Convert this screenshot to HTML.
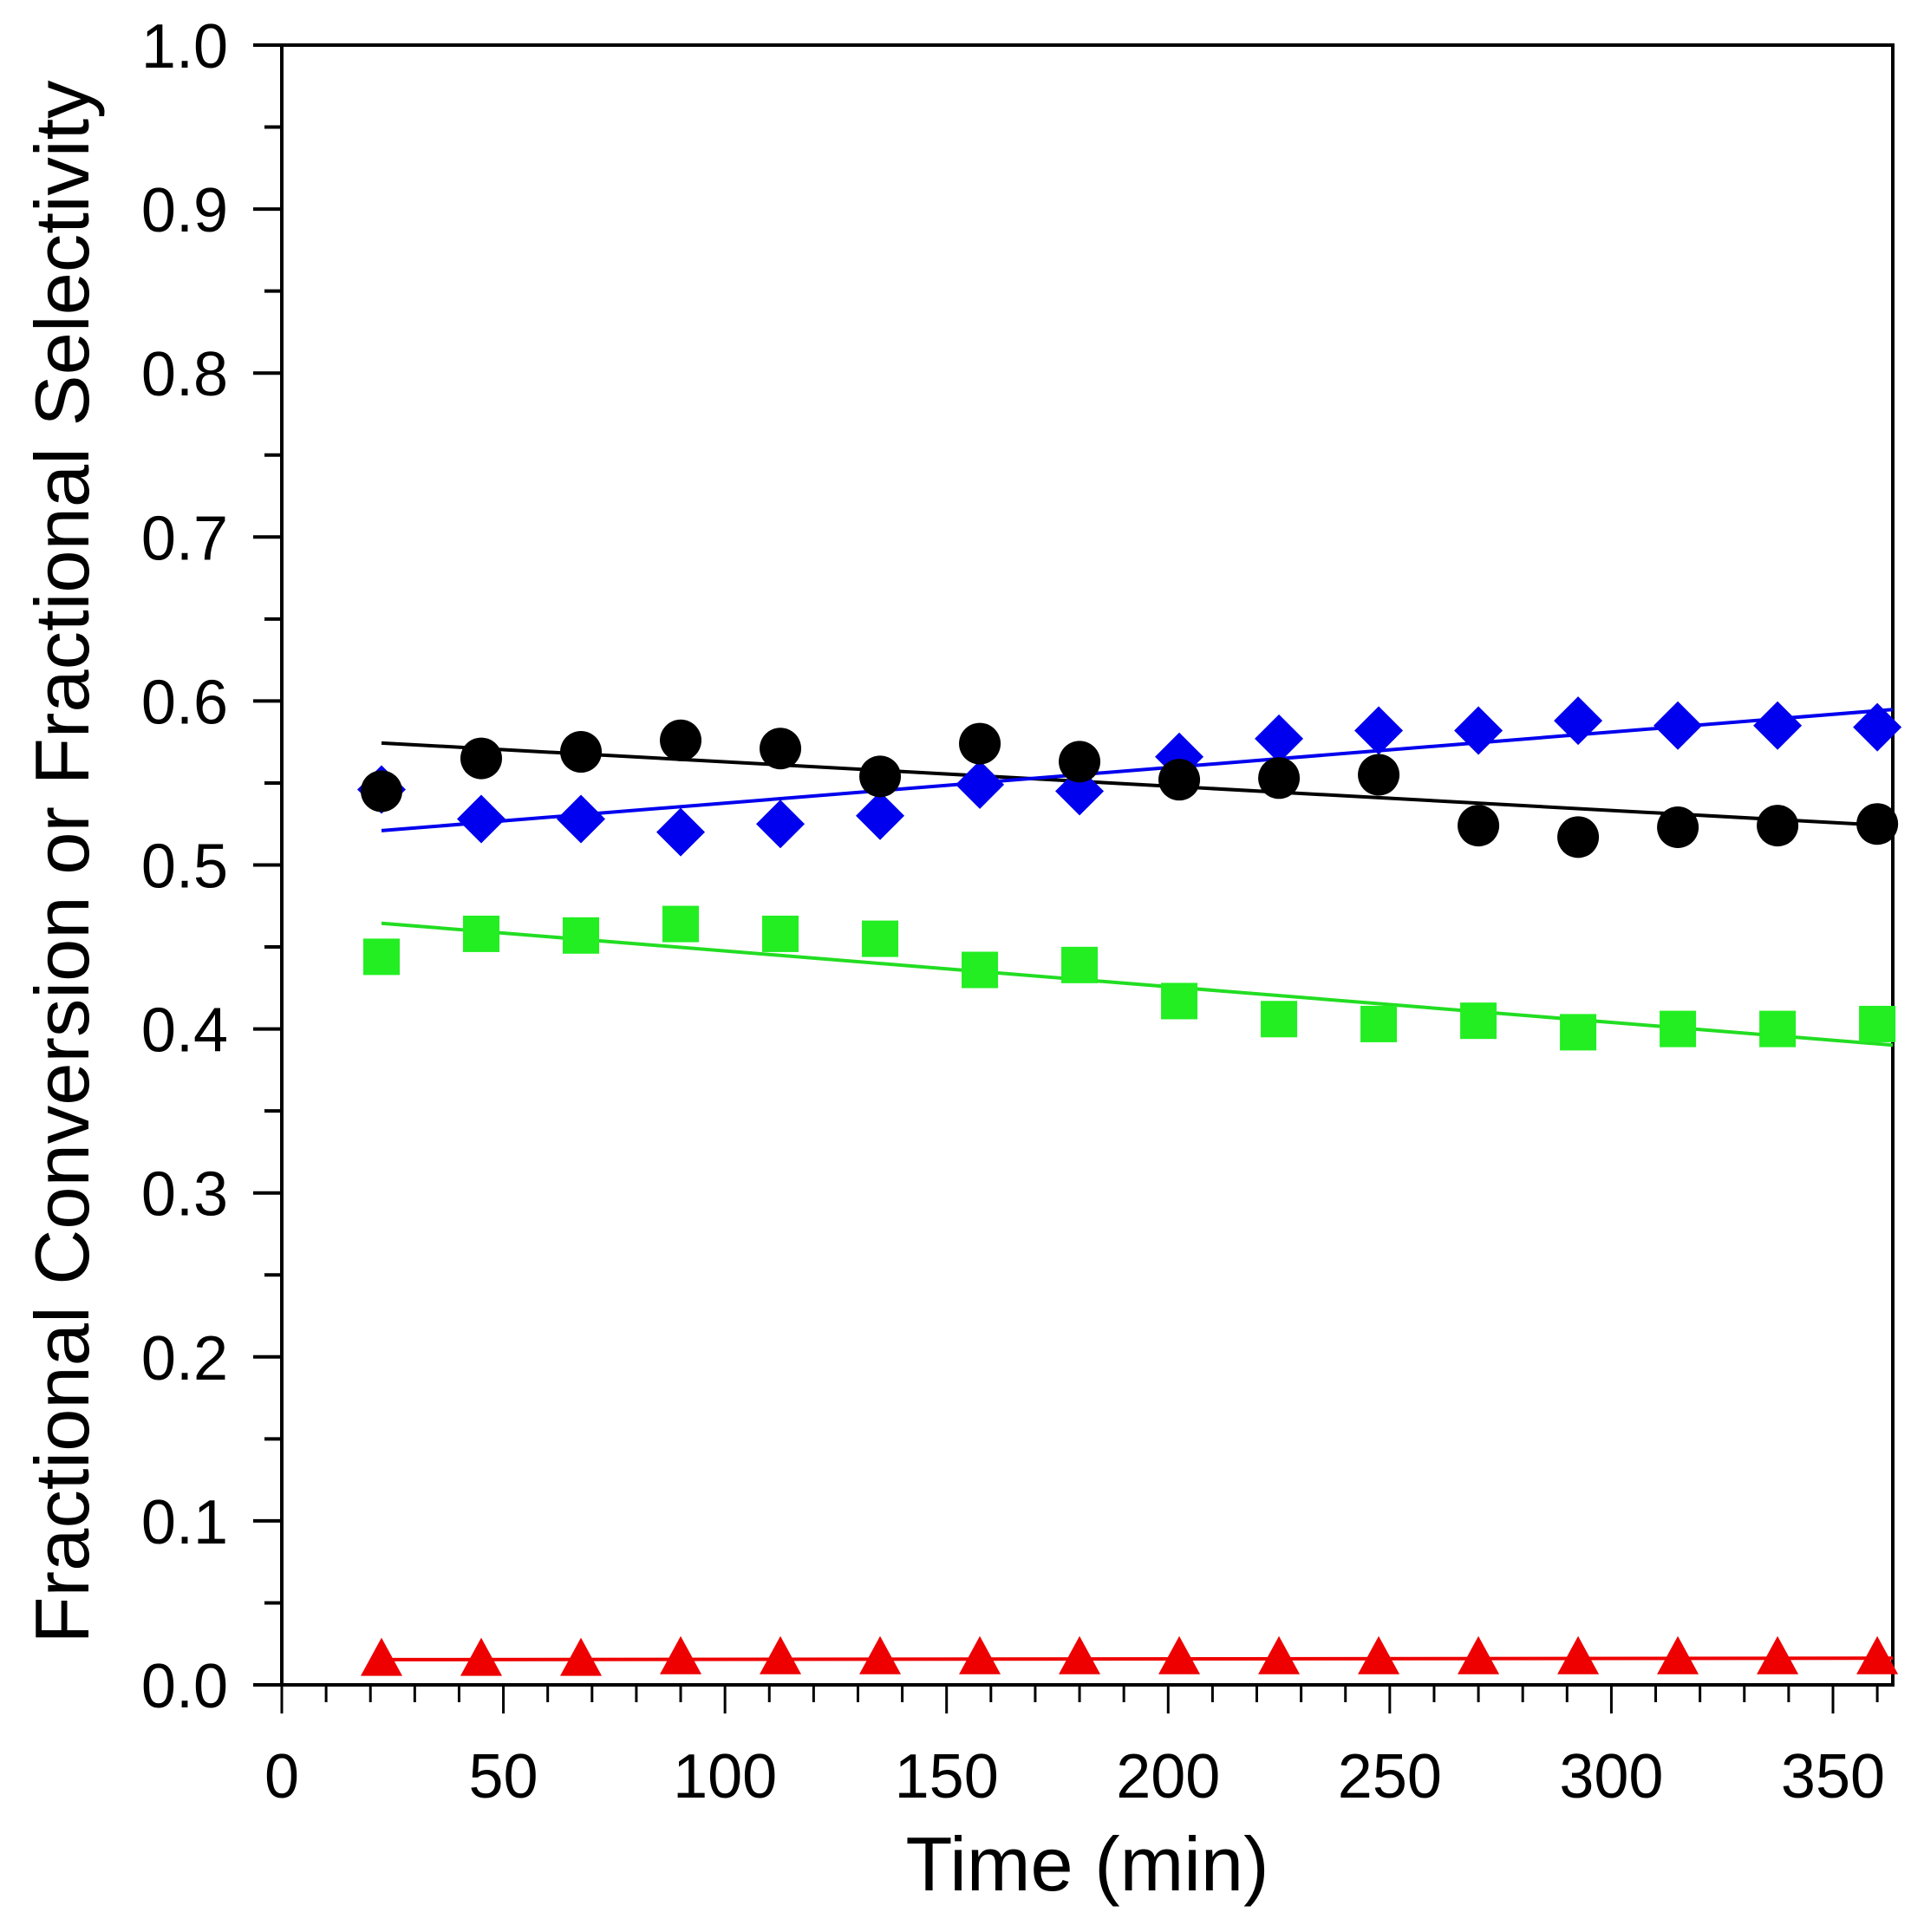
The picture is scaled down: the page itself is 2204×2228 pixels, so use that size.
<!DOCTYPE html>
<html><head><meta charset="utf-8"><style>html,body{margin:0;padding:0;background:#fff}svg{display:block}</style></head>
<body>
<svg id="chart" width="2204" height="2228" viewBox="0 0 2204 2228" xmlns="http://www.w3.org/2000/svg" font-family="'Liberation Sans', sans-serif">
<g id="axes"></g>
<g id="marks"></g>
</svg>
<script>
const times = [22.5,45,67.5,90,112.5,135,157.5,180,202.5,225,247.5,270,292.5,315,337.5,360];
const blackCircle = [0.545,0.565,0.569,0.576,0.571,0.554,0.574,0.563,0.552,0.553,0.555,0.524,0.517,0.523,0.524,0.525];
const blueDiamond = [0.546,0.528,0.528,0.520,0.525,0.530,0.549,0.545,0.566,0.577,0.582,0.582,0.588,0.585,0.585,0.584];
const greenSquare = [0.444,0.458,0.457,0.464,0.458,0.455,0.436,0.439,0.417,0.406,0.403,0.405,0.398,0.400,0.400,0.403];
const redTriangle = [0.015,0.015,0.015,0.016,0.016,0.016,0.016,0.016,0.016,0.016,0.016,0.016,0.016,0.016,0.016,0.016];
const xTicks = [0,50,100,150,200,250,300,350];
const yTicks = [0.0,0.1,0.2,0.3,0.4,0.5,0.6,0.7,0.8,0.9,1.0];

const NS='http://www.w3.org/2000/svg';
const L=325,R=2183,T=52,B=1943,XMAX=363.5;
const sx=v=>L+(R-L)*v/XMAX;
const sy=v=>B-(B-T)*v;
function mk(tag,attrs,parent){const e=document.createElementNS(NS,tag);for(const k in attrs)e.setAttribute(k,attrs[k]);parent.appendChild(e);return e;}
const axes=document.getElementById('axes'), marks=document.getElementById('marks');

// frame
let fr=mk('rect',{x:L,y:T,width:R-L,height:B-T,fill:'none',stroke:'#000','stroke-width':4},axes);



// y ticks
for(let i=0;i<=20;i++){
  const v=i*0.05, major=i%2===0;
  const t=mk('line',{x1:L-(major?33:20),x2:L,y1:sy(v),y2:sy(v),stroke:'#000','stroke-width':4},axes);
  
  
}
yTicks.forEach(v=>{
  const t=mk('text',{x:263,y:sy(v)+26,'text-anchor':'end','font-size':72,fill:'#000'},axes);
  t.textContent=v.toFixed(1);
  
  
});
// x ticks
for(let m=0;m<=XMAX;m+=10){
  const major=m%50===0;
  const t=mk('line',{x1:sx(m),x2:sx(m),y1:B,y2:B+(major?33:20),stroke:'#000','stroke-width':3},axes);
  
  
}
xTicks.forEach(v=>{
  const t=mk('text',{x:sx(v),y:2073,'text-anchor':'middle','font-size':72,fill:'#000'},axes);
  t.textContent=String(v);
  
  
});
let xt=mk('text',{x:1254,y:2180,'text-anchor':'middle','font-size':88,fill:'#000',textLength:419,lengthAdjust:'spacingAndGlyphs'},axes);
xt.textContent='Time (min)';


let yt=mk('text',{x:0,y:0,'text-anchor':'middle','font-size':88,fill:'#000',textLength:1803,lengthAdjust:'spacingAndGlyphs',transform:'translate(102,994) rotate(-90)'},axes);
yt.textContent='Fractional Conversion or Fractional Selectivity';



function fitLine(ys,color,name){
  const n=times.length;let mx=0,my=0;
  for(let i=0;i<n;i++){mx+=times[i];my+=ys[i];}mx/=n;my/=n;
  let num=0,den=0;for(let i=0;i<n;i++){num+=(times[i]-mx)*(ys[i]-my);den+=(times[i]-mx)**2;}
  const b=num/den,a=my-b*mx;
  const l=mk('line',{x1:sx(times[0]),y1:sy(a+b*times[0]),x2:sx(XMAX),y2:sy(a+b*XMAX),stroke:color,'stroke-width':4},marks);
  
  
}
fitLine(greenSquare,'#22dd22','green-fit-line');
fitLine(redTriangle,'#ee0000','red-fit-line');
fitLine(blackCircle,'#000','black-fit-line');
fitLine(blueDiamond,'#0000ee','blue-fit-line');

times.forEach((t,i)=>{
  const x=sx(t);
  let y=sy(greenSquare[i]);
  const s=mk('rect',{x:x-21,y:y-21,width:42,height:42,fill:'#22ee22'},marks);
  
  
  y=sy(redTriangle[i]);
  const tr=mk('polygon',{points:`${x},${y-26} ${x-24},${y+18} ${x+24},${y+18}`,fill:'#ee0000'},marks);
  
  
  y=sy(blueDiamond[i]);
  const d=mk('polygon',{points:`${x},${y-28} ${x+28},${y} ${x},${y+28} ${x-28},${y}`,fill:'#0000ee'},marks);
  
  
  y=sy(blackCircle[i]);
  const c=mk('circle',{cx:x,cy:y,r:24,fill:'#000'},marks);
  
  
});
</script>
</body></html>
